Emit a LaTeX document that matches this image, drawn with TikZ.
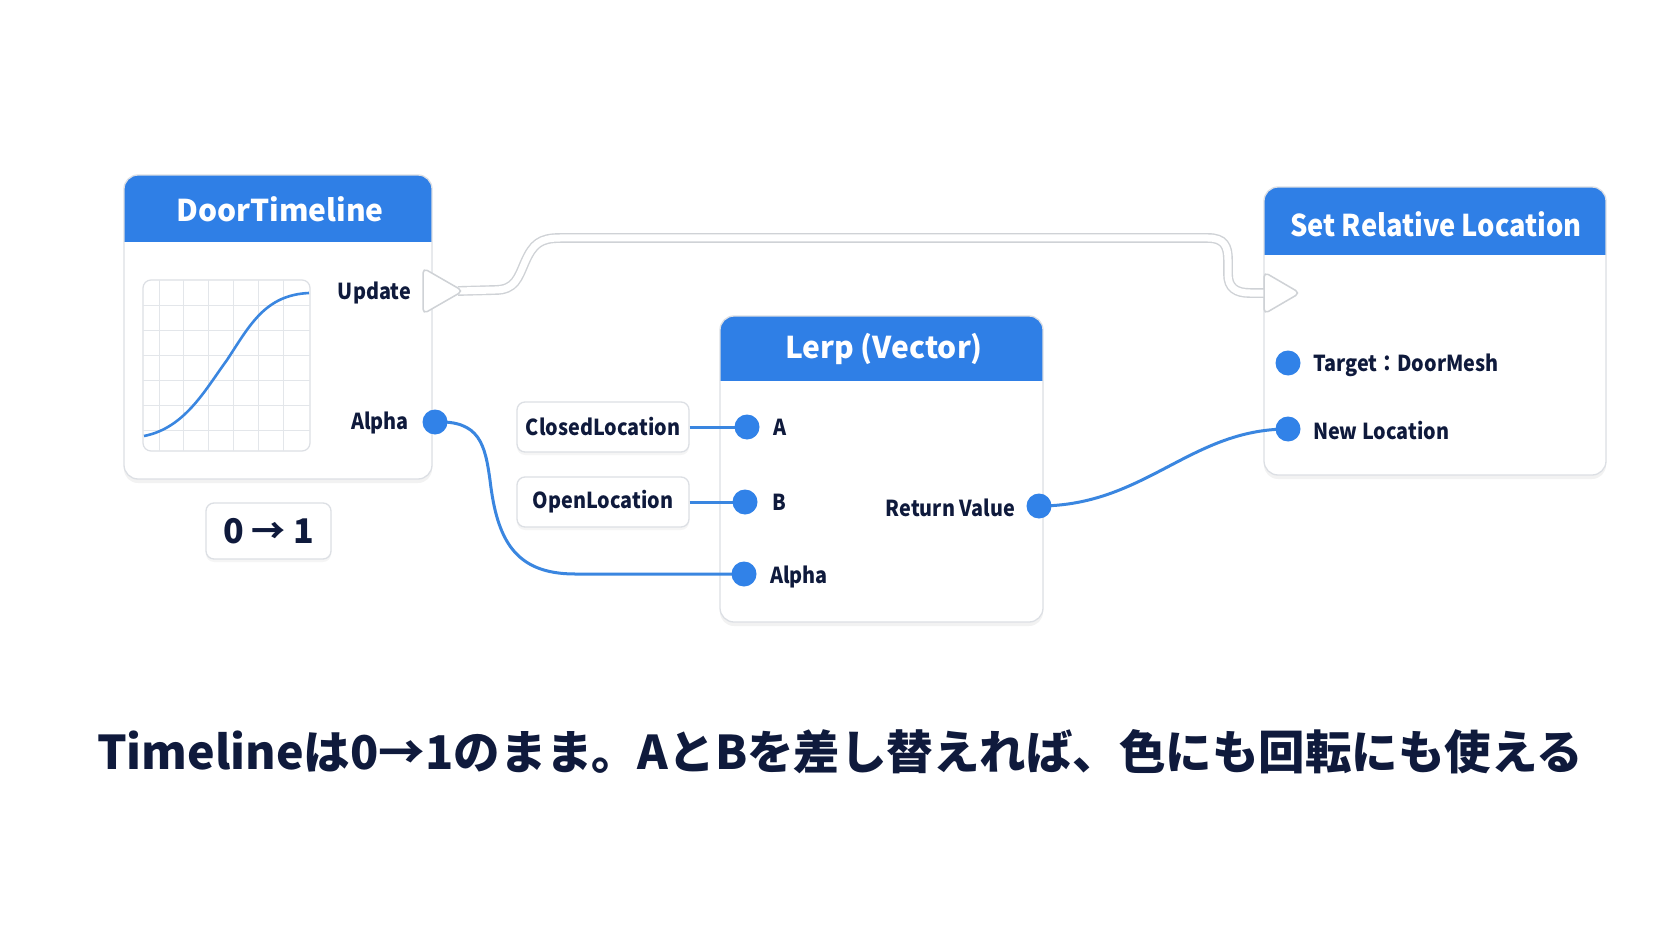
\documentclass[tikz,border=0pt]{standalone}
\usepackage{fontspec}
\setmainfont{Noto Sans CJK JP}
\newfontfamily\lblfont{Noto Sans CJK JP}[FakeStretch=0.9]
\newfontfamily\narrowtitle{Noto Sans CJK JP}[FakeStretch=0.91]
\usetikzlibrary{shadows}
\definecolor{hdr}{HTML}{2F7FE6}
\definecolor{pinblue}{HTML}{3182E8}
\definecolor{wireblue}{HTML}{3A86E0}
\definecolor{navy}{HTML}{0F1A3C}
\definecolor{boxgray}{HTML}{DCDFE4}
\definecolor{gridgray}{HTML}{E3E6EA}
\definecolor{wiregray}{HTML}{CFD2D6}
\pgfdeclarelayer{bg}
\pgfdeclarelayer{boxes}
\pgfdeclarelayer{wires}
\pgfsetlayers{bg,boxes,wires,main}
\tikzset{
  box/.style={draw=boxgray, line width=1.3pt, fill=white, rounded corners=14pt,
    drop shadow={opacity=0.10, shadow xshift=0pt, shadow yshift=-4pt}},
  hdrtext/.style={text=white, font=\fontsize{30}{34}\selectfont\bfseries},
  lbl/.style={text=navy, font=\lblfont\fontsize{22}{26}\selectfont\bfseries, inner sep=0pt},
  pin/.style={circle, fill=pinblue, minimum size=25pt, inner sep=0pt},
  wire/.style={draw=wireblue, line width=3pt},
  valbox/.style={draw=boxgray, line width=1.3pt, fill=white, rounded corners=8pt,
    text=navy, font=\lblfont\fontsize{22}{26}\selectfont\bfseries,
    drop shadow={opacity=0.08, shadow xshift=0pt, shadow yshift=-3pt}},
  execwire/.style={draw=wiregray, line width=1.4pt, double=white, double distance=7pt},
  execpin/.style={draw=wiregray, line width=1.5pt, fill=white, rounded corners=5pt},
  gridline/.style={draw=gridgray, line width=1pt},
}
\begin{document}
\begin{tikzpicture}[x=1pt,y=-1pt]
\useasboundingbox (0,0) rectangle (1672,941);
\begin{pgfonlayer}{bg}
\fill[white] (0,0) rectangle (1672,941);
\end{pgfonlayer}

% ---------- boxes ----------
\begin{pgfonlayer}{boxes}
\node[box, minimum width=308pt, minimum height=304pt,
  path picture={\fill[hdr, sharp corners] (path picture bounding box.north west) rectangle ([yshift=-67pt]path picture bounding box.north east);}]
  (dt) at (278,327) {};
\node[box, minimum width=323pt, minimum height=306pt,
  path picture={\fill[hdr, sharp corners] (path picture bounding box.north west) rectangle ([yshift=-65pt]path picture bounding box.north east);}]
  (lerp) at (881.5,469) {};
\node[box, minimum width=342pt, minimum height=288pt,
  path picture={\fill[hdr, sharp corners] (path picture bounding box.north west) rectangle ([yshift=-68pt]path picture bounding box.north east);}]
  (srl) at (1435,331) {};
\node[valbox, minimum width=172pt, minimum height=50pt] (cl) at (603,427) {ClosedLocation};
\node[valbox, minimum width=172pt, minimum height=50pt] (ol) at (603,502) {OpenLocation};
\node[valbox, minimum width=125pt, minimum height=56pt, font=\fontsize{34}{40}\selectfont\bfseries] (zo) at (268.5,531) {0 → 1};
\end{pgfonlayer}

% ---------- titles ----------
\node[hdrtext] (dtt) at (280,209) {DoorTimeline};
\node[hdrtext] (lerpt) at (884,349) {Lerp (Vector)};
\node[hdrtext, font=\narrowtitle\fontsize{30}{34}\selectfont\bfseries] (srlt) at (1436,224) {Set Relative Location};

% ---------- graph ----------
\node[draw=boxgray, line width=1.2pt, rounded corners=8pt, minimum width=167pt, minimum height=171pt, fill=white] (graph) at (226.5,365.5) {};
\begin{scope}
\clip[rounded corners=8pt] (143,280) rectangle (310,451);
\foreach \i in {0,...,5} {
  \draw[gridline] ({159+24.8*\i},280) -- ({159+24.8*\i},451);
  \draw[gridline] (143,{305+25*\i}) -- (310,{305+25*\i});
}
\draw[wireblue, line width=2.6pt] (144,436) .. controls (185,428) and (205,390) .. (227,360) .. controls (250,325) and (265,295) .. (309,293);
\end{scope}

% ---------- pins ----------
\node[pin] (pAlphaOut) at (435,422) {};
\node[pin] (pA) at (747,427) {};
\node[pin] (pB) at (745,502) {};
\node[pin] (pAlphaIn) at (744,574) {};
\node[pin] (pRet) at (1039,506) {};
\node[pin] (pTarget) at (1288,363) {};
\node[pin] (pNewLoc) at (1288,429) {};

% ---------- exec pins ----------
\coordinate (execOut) at (458,291);
\coordinate (execIn) at (1268,293);
\draw[execpin] (423,268) -- (463,291) -- (423,314) -- cycle;
\draw[execpin] (1264,272) -- (1300,293) -- (1264,314) -- cycle;

% ---------- labels ----------
\node[lbl, anchor=east] (lUpdate) at (411,293) {Update};
\node[lbl, anchor=east] (lAlphaOut) at (409,423) {Alpha};
\node[lbl, anchor=west] (lA) at (773,427) {A};
\node[lbl, anchor=west] (lB) at (772,502) {B};
\node[lbl, anchor=west] (lAlphaIn) at (770,577) {Alpha};
\node[lbl, anchor=east] (lRet) at (1015,508) {Return Value};
\node[lbl, anchor=west] (lTarget) at (1313,365) {Target：DoorMesh};
\node[lbl, anchor=west] (lNewLoc) at (1313,431) {New Location};

% ---------- wires ----------
\begin{pgfonlayer}{wires}
\draw[execwire] (execOut) -- (495,290) .. controls (515,290) and (518,278) .. (525,262)
  .. controls (533,244) and (540,238) .. (560,238) -- (1208,238)
  .. controls (1224,238) and (1228,246) .. (1228,260) -- (1228,274)
  .. controls (1228,288) and (1236,293) .. (1250,293) -- (execIn);
\draw[wire] (pAlphaOut.center) .. controls (480,420) and (485,445) .. (490,480)
  .. controls (497,540) and (515,574) .. (575,574) -- (pAlphaIn.center);
\draw[wire] (cl.east) -- (pA.center);
\draw[wire] (ol.east) -- (pB.center);
\draw[wire] (pRet.center) .. controls (1145,506) and (1190,429) .. (pNewLoc.center);
\end{pgfonlayer}

% ---------- caption ----------
\node[text=navy, font=\fontsize{46.5}{52}\selectfont\bfseries] (cap) at (840,752)
  {Timelineは0→1のまま。AとBを差し替えれば、色にも回転にも使える};
\end{tikzpicture}
\end{document}
